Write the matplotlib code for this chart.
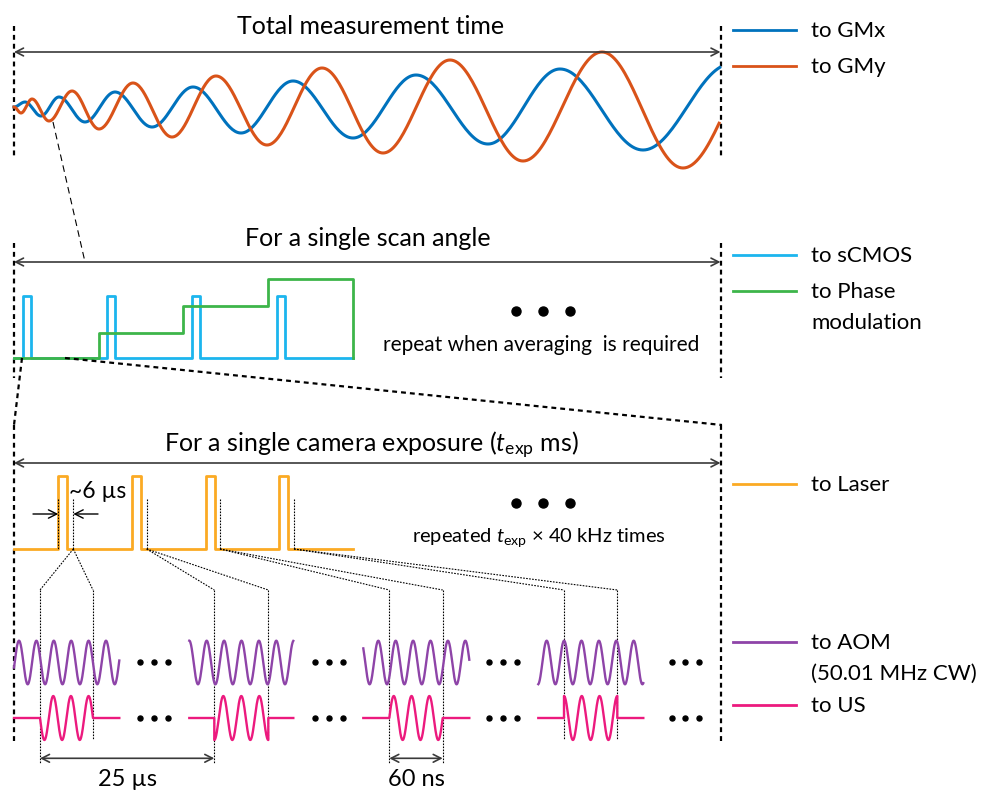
import numpy as np
import matplotlib.pyplot as plt

plt.rcParams['font.family'] = ['Lato', 'DejaVu Sans']
plt.rcParams['mathtext.fontset'] = 'custom'
plt.rcParams['mathtext.rm'] = 'Lato'
plt.rcParams['mathtext.it'] = 'Lato:italic'

# galvo mirror drive signals: extrema (time px, level px)
gmx_t = [14, 25, 41, 59, 85, 115, 152, 193, 241, 293, 353, 416, 488, 560, 643, 731]
gmx_v = [107, 102, 116, 97, 122, 92, 127, 87, 133, 81, 138, 75, 144, 69, 150, 64]
gmy_t = [14, 21, 32, 49, 72, 99, 133, 172, 216, 267, 322, 383, 450, 523, 602, 683, 771]
gmy_v = [107, 113, 99, 121, 91, 129, 83, 137, 76, 145, 68, 153, 60, 161, 52, 168, 44]

# camera trigger pulses and phase-modulation steps (single scan angle)
cam_on = [22.7, 107.3, 192.3, 277.3]
cam_width = 8.0
phase_edges = [14, 99, 183.3, 268.3, 352.7]
phase_levels = [357.7, 332.7, 306, 279.3]

# laser pulses within one exposure
laser_on = [58.3, 132.3, 206, 279.3]
laser_width = 8.5

# AOM continuous wave chunks and US bursts
aom_start = [14, 189.3, 363.3, 538.3]
aom_end = [119.3, 293.3, 469.3, 643.3]
aom_peak = [19, 189.3, 378.3, 546.7]
us_start = [40, 214.3, 389.3, 564]
us_end = [93, 268.3, 442.7, 617.3]
us_phase = [0.25, 0.5, 0.75, 0.0]
gap_dots = [[140, 154, 167.7], [315, 329, 342.7], [489.3, 503.3, 517.3], [671.7, 685, 699]]

legend_items = [('to GMx', '#0072BD', 30), ('to GMy', '#D95319', 66),
                ('to sCMOS', '#1CB5EE', 255), ('to Phase\nmodulation', '#3DB54A', 291),
                ('to Laser', '#FBAA24', 484), ('to AOM\n(50.01 MHz CW)', '#8E44A8', 642),
                ('to US', '#EC1A7E', 705)]
col = {name.split('\n')[0]: c for name, c, _ in legend_items}

XL, XR = 14, 720.5


def half_cos(ts, vs, n=40):
    xs, ys = [], []
    for i in range(len(ts) - 1):
        u = np.linspace(0, 1, n)
        xs.append(ts[i] + (ts[i + 1] - ts[i]) * u)
        ys.append(vs[i] + (vs[i + 1] - vs[i]) * (1 - np.cos(np.pi * u)) / 2)
    x, y = np.concatenate(xs), np.concatenate(ys)
    keep = x <= XR
    return x[keep], y[keep]


def pulses(starts, width, x0, x1, low, high):
    xs, ys = [x0], [low]
    for s in starts:
        xs += [s, s, s + width, s + width]
        ys += [low, high, high, low]
    xs.append(x1)
    ys.append(low)
    return xs, ys


fig = plt.figure(figsize=(9.86, 7.93), dpi=100)
ax = fig.add_axes([0, 0, 1, 1])
ax.set_xlim(0, 986)
ax.set_ylim(793, 0)
ax.axis('off')

# panel frames
for y0, y1 in [(26, 158), (243, 378), (425, 742)]:
    for x in (XL, XR):
        ax.plot([x, x], [y0, y1], color='k', lw=1.6, ls=(0, (2.2, 1.8)))
for y in (52, 262, 463):
    ax.annotate('', xy=(XR, y), xytext=(XL, y),
                arrowprops=dict(arrowstyle='<->,head_length=0.55,head_width=0.28',
                                color='#3a3a3a', lw=1.2, shrinkA=0, shrinkB=0))

ax.text(371, 26, 'Total measurement time', ha='center', va='center', fontsize=18)
ax.text(368, 238, 'For a single scan angle', ha='center', va='center', fontsize=18)
ax.text(371, 445, r'For a single camera exposure ($\mathit{t}_{\mathrm{exp}}$ ms)',
        ha='center', va='center', fontsize=18)

# panel 1
x, y = half_cos(gmx_t, gmx_v)
ax.plot(x, y, color=col['to GMx'], lw=2.2)
x, y = half_cos(gmy_t, gmy_v)
ax.plot(x, y, color=col['to GMy'], lw=2.2)
ax.plot([53, 85], [122, 262], color='k', lw=0.8, ls=(0, (6, 4)))

# panel 2
x, y = pulses(cam_on, cam_width, 14, 352.7, 357.7, 296)
ax.plot(x, y, color=col['to sCMOS'], lw=2.0)
px, py = [], []
for i, lv in enumerate(phase_levels):
    px += [phase_edges[i], phase_edges[i + 1]]
    py += [lv, lv]
px.append(phase_edges[-1])
py.append(phase_levels[0])
ax.plot(px, py, color=col['to Phase'], lw=2.0)
ax.plot([516, 543, 570], [310.7] * 3, 'o', color='k', ms=6.5)
ax.text(541, 345, 'repeat when averaging  is required', ha='center', va='center', fontsize=15)
ax.plot([22, 14], [358, 425], color='k', lw=1.6, ls=(0, (2.2, 1.8)))
ax.plot([65, 722], [358, 425], color='k', lw=1.6, ls=(0, (2.2, 1.8)))

# panel 3
x, y = pulses(laser_on, laser_width, 14, 352.7, 549, 475.7)
ax.plot(x, y, color=col['to Laser'], lw=2.0)
for xv in [58.3, 73.3, 146.7, 220, 294]:
    ax.plot([xv, xv], [499, 549], color='k', lw=0.8, ls=(0, (1.5, 1.2)))
ax.annotate('', xy=(58.3, 514), xytext=(33, 514),
            arrowprops=dict(arrowstyle='->,head_length=0.6,head_width=0.3', color='k', lw=1,
                            shrinkA=0, shrinkB=0))
ax.annotate('', xy=(73.3, 514), xytext=(98, 514),
            arrowprops=dict(arrowstyle='->,head_length=0.6,head_width=0.3', color='k', lw=1,
                            shrinkA=0, shrinkB=0))
ax.text(69, 492, '~6 µs', ha='left', va='center', fontsize=16.5)
ax.plot([516, 543, 570], [502.7] * 3, 'o', color='k', ms=6.5)
ax.text(539, 538, r'repeated $\mathit{t}_{\mathrm{exp}}$ × 40 kHz times', ha='center',
        va='center', fontsize=14.5)

# panel 4
pulse_src = [73.3, 146.7, 220, 294]
long_lines = [(True, False), (True, False), (True, True), (False, False)]
for k in range(4):
    for j, xb in enumerate((us_start[k], us_end[k])):
        ax.plot([pulse_src[k], xb], [549, 590], color='k', lw=0.8, ls=(0, (1.5, 1.2)))
        yb = 763 if long_lines[k][j] else 740
        ax.plot([xb, xb], [590, yb], color='k', lw=0.8, ls=(0, (1.5, 1.2)))

P = 17.4
for k in range(4):
    xa = np.linspace(aom_start[k], aom_end[k], 300)
    ax.plot(xa, 662.5 - 21.8 * np.cos(2 * np.pi * (xa - aom_peak[k]) / P),
            color=col['to AOM'], lw=1.7)
    xu = np.linspace(us_start[k], us_end[k], 300)
    yu = 718 - 22 * np.cos(2 * np.pi * (3 * (xu - us_start[k]) / (us_end[k] - us_start[k]) + us_phase[k]))
    ax.plot(np.r_[aom_start[k], xu[0], xu, xu[-1], aom_end[k]],
            np.r_[718, 718, yu, 718, 718], color=col['to US'], lw=1.7)
    for yy in (662, 718):
        ax.plot(gap_dots[k], [yy] * 3, 'o', color='k', ms=3.6)

for xa, xb, lab in [(40, 214.3, '25 µs'), (389.3, 442.7, '60 ns')]:
    ax.annotate('', xy=(xb, 758.3), xytext=(xa, 758.3),
                arrowprops=dict(arrowstyle='<->,head_length=0.55,head_width=0.28',
                                color='#3a3a3a', lw=1.2, shrinkA=0, shrinkB=0))
    ax.text((xa + xb) / 2, 780, lab, ha='center', va='center', fontsize=17)

# legend
for name, c, yl in legend_items:
    ax.plot([733, 796], [yl, yl], color=c, lw=2)
    for i, line in enumerate(name.split('\n')):
        ax.text(811, yl + 1 + 31 * i, line, ha='left', va='center', fontsize=16)

fig.savefig('out.png', dpi=100)
